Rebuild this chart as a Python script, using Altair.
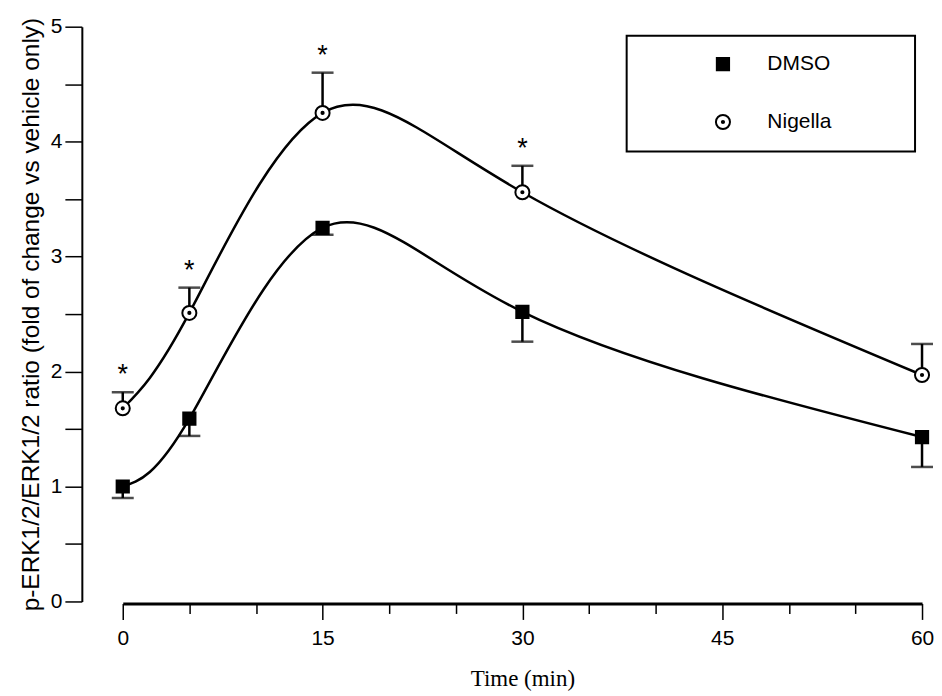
import altair as alt
import pandas as pd

# ---- data ----
times = [0, 5, 15, 30, 60]
dmso_mean = [1.00, 1.59, 3.25, 2.52, 1.43]
dmso_low = [0.90, 1.44, 3.19, 2.26, 1.17]
nigella_mean = [1.68, 2.51, 4.25, 3.56, 1.97]
nigella_high = [1.82, 2.73, 4.60, 3.79, 2.24]
nigella_sig = [True, True, True, True, False]
series_names = ["DMSO", "Nigella"]
x_tick_values = [0, 5, 10, 15, 20, 25, 30, 35, 40, 45, 50, 55, 60]
y_tick_values = [0, 0.5, 1, 1.5, 2, 2.5, 3, 3.5, 4, 4.5, 5]

rows = []
for t, m, lo in zip(times, dmso_mean, dmso_low):
    rows.append({"series": "DMSO", "time": t, "mean": m, "err": lo, "star": False})
for t, m, hi, s in zip(times, nigella_mean, nigella_high, nigella_sig):
    rows.append({"series": "Nigella", "time": t, "mean": m, "err": hi, "star": s})
df = pd.DataFrame(rows)

CIRCLE_DOT = ("M -1.15 0 A 1.15 1.15 0 1 0 1.15 0 A 1.15 1.15 0 1 0 -1.15 0 Z "
              "M -0.18 0 A 0.18 0.18 0 1 0 0.18 0 A 0.18 0.18 0 1 0 -0.18 0 Z")

FONT = "Liberation Sans"

x_axis = alt.Axis(
    values=x_tick_values,
    labelExpr="datum.value % 15 === 0 ? format(datum.value, 'd') : ''",
    tickSize={"condition": {"test": "datum.value % 15 === 0", "value": 16}, "value": 10},
    tickWidth=1.5, tickColor="black",
    domainWidth=3, domainColor="black",
    labelFont=FONT, labelFontSize=21, labelColor="black", labelPadding=8,
    labelFlush=False, labelOverlap=False,
    titleFont="Liberation Serif", titleFontSize=23, titleFontWeight="normal",
    titleColor="black", titlePadding=19,
    offset=2, grid=False,
)
y_axis = alt.Axis(
    values=y_tick_values,
    labelExpr="datum.value % 1 === 0 ? format(datum.value, 'd') : ''",
    tickSize=17, tickWidth=1.5, tickColor="black",
    domainWidth=2, domainColor="black",
    labelFont=FONT, labelFontSize=21, labelColor="black", labelPadding=3,
    labelOverlap=False,
    titleFont=FONT, titleFontSize=24.5, titleFontWeight="normal",
    titleColor="black", titlePadding=7,
    offset=41, grid=False,
)
x_scale = alt.Scale(domain=[0, 60], nice=False, zero=False)
y_scale = alt.Scale(domain=[0, 5], nice=False, zero=True)
X_TITLE = "Time (min)"
Y_TITLE = "p-ERK1/2/ERK1/2 ratio (fold of change vs vehicle only)"


def X():
    return alt.X("time:Q", scale=x_scale, axis=x_axis, title=X_TITLE)


def Y(field):
    return alt.Y(field + ":Q", scale=y_scale, axis=y_axis, title=Y_TITLE)


base = alt.Chart(df)

lines = base.mark_line(interpolate="natural", color="black", strokeWidth=2.5).encode(
    x=X(), y=Y("mean"), detail="series:N"
)
rules = base.mark_rule(color="black", strokeWidth=2.5).encode(
    x=X(), y=Y("mean"), y2="err:Q"
)
caps = base.mark_tick(orient="horizontal", size=22, thickness=2.5, color="black").encode(
    x=X(), y=Y("err")
)
legend = alt.Legend(
    title=".", titleOrient="right", titleFontSize=21, titleColor="white",
    titlePadding=60,
    orient="none", legendX=505, legendY=9,
    padding=18, strokeColor="black",
    symbolOffset=68, labelOffset=34, rowPadding=36,
    symbolSize=150, symbolStrokeWidth=2,
    labelFont=FONT, labelFontSize=21, labelColor="black",
)
points = base.mark_point(filled=True, opacity=1, strokeWidth=2, size=150).encode(
    x=X(),
    y=Y("mean"),
    shape=alt.Shape("series:N", scale=alt.Scale(domain=series_names, range=["square", CIRCLE_DOT]),
                    legend=legend),
    fill=alt.Fill("series:N", scale=alt.Scale(domain=series_names, range=["black", "white"]),
                  legend=legend),
    stroke=alt.Stroke("series:N", scale=alt.Scale(domain=series_names, range=["black", "black"]),
                      legend=legend),
)
stars = base.transform_filter("datum.star").mark_text(
    text="*", font=FONT, fontSize=27, baseline="alphabetic", dy=-9, color="black"
).encode(x=X(), y=Y("err"))

chart = alt.layer(lines, rules, caps, points, stars).properties(
    width=801, height=576,
    padding={"left": 10, "top": 7, "right": 0, "bottom": 0},
).configure_view(stroke=None).configure_legend(strokeWidth=2)

chart.save("out.html", embed_options={"renderer": "svg", "actions": False})
